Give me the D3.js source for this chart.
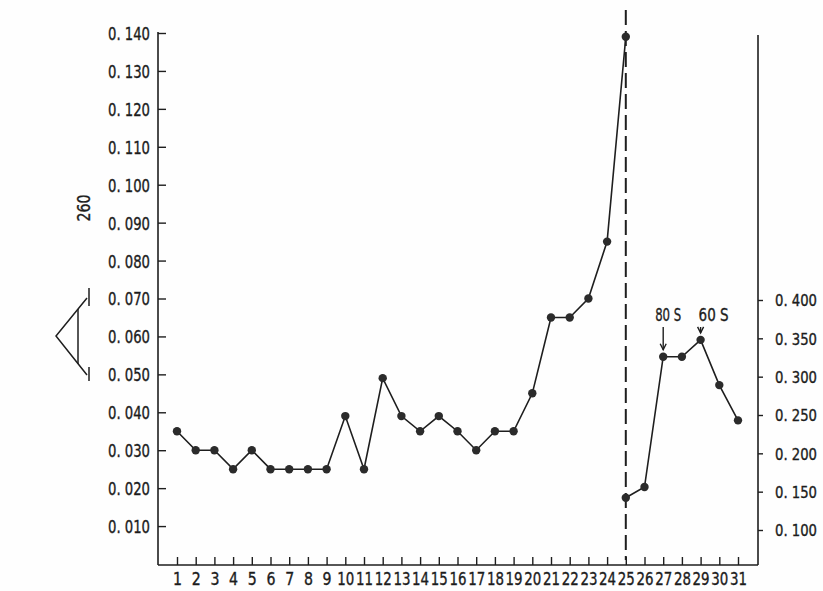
<!DOCTYPE html>
<html>
<head>
<meta charset="utf-8">
<script src="https://cdn.jsdelivr.net/npm/d3@7"></script>
<style>
  html, body { margin: 0; padding: 0; background: #fefefe; }
  svg { display: block; }
  text { font-family: "DejaVu Sans Condensed", "DejaVu Sans", sans-serif; fill: #1c1c1c; stroke: #1c1c1c; stroke-width: 0.35px; }
</style>
</head>
<body>
<svg id="chart" width="823" height="591"></svg>
<script>
// Gradient fractions 1–31
const fractions = d3.range(1, 32);

// Absorbance read on the left scale (fractions 1–25)
const leftFractions = d3.range(1, 26);
const leftValues = [0.035, 0.030, 0.030, 0.025, 0.030, 0.025, 0.025, 0.025, 0.025, 0.039,
                    0.025, 0.049, 0.039, 0.035, 0.039, 0.035, 0.030, 0.035, 0.035, 0.045,
                    0.065, 0.065, 0.070, 0.085, 0.139];

// Absorbance read on the right scale (fractions 25–31)
const rightFractions = [25, 26, 27, 28, 29, 30, 31];
const rightValues = [0.142, 0.156, 0.326, 0.326, 0.348, 0.289, 0.243];

// Axis tick labels
const leftTicks = [0.010, 0.020, 0.030, 0.040, 0.050, 0.060, 0.070, 0.080, 0.090, 0.100, 0.110, 0.120, 0.130, 0.140];
const rightTicks = [0.100, 0.150, 0.200, 0.250, 0.300, 0.350, 0.400];

// Sedimentation markers
const markers = [
  { fraction: 27, label: "80 S", value: 0.326 },
  { fraction: 29, label: "60 S", value: 0.348 }
];

const ink = "#1e1e1e";
const svg = d3.select("#chart");

const x = d3.scaleLinear().domain([1, 31]).range([177, 738]);
const yL = d3.scaleLinear().domain([0, 0.140]).range([564, 33]);
const yR = d3.scaleLinear().domain([0.100, 0.400]).range([530, 300]);

const axisY = 565, leftX = 158, rightX = 758;
const fmt = d => d3.format(".3f")(d).replace(".", ". ");

// Frame lines
svg.append("line").attr("x1", leftX).attr("x2", leftX).attr("y1", 32).attr("y2", axisY)
  .attr("stroke", ink).attr("stroke-width", 1.6);
svg.append("line").attr("x1", leftX).attr("x2", rightX).attr("y1", axisY).attr("y2", axisY)
  .attr("stroke", ink).attr("stroke-width", 1.6);
svg.append("line").attr("x1", rightX).attr("x2", rightX).attr("y1", 35).attr("y2", axisY)
  .attr("stroke", ink).attr("stroke-width", 1.6);

// Left axis
const gL = svg.append("g").attr("transform", `translate(${leftX},0)`)
  .call(d3.axisLeft(yL).tickValues(leftTicks).tickSize(-8).tickPadding(8).tickFormat(fmt));
gL.select(".domain").remove();
gL.selectAll(".tick line").attr("stroke", ink).attr("stroke-width", 1.4);
gL.selectAll(".tick text").attr("font-size", 18).attr("fill", ink).attr("dy", "0.36em")
  .attr("textLength", 42).attr("lengthAdjust", "spacingAndGlyphs");

// Right axis
const gR = svg.append("g").attr("transform", `translate(${rightX},0)`)
  .call(d3.axisRight(yR).tickValues(rightTicks).tickSize(5).tickPadding(12).tickFormat(fmt));
gR.select(".domain").remove();
gR.selectAll(".tick line").attr("stroke", ink).attr("stroke-width", 1.4);
gR.selectAll(".tick text").attr("font-size", 16).attr("fill", ink).attr("dy", "0.36em")
  .attr("textLength", 42).attr("lengthAdjust", "spacingAndGlyphs");

// Bottom axis
const gX = svg.append("g").attr("transform", `translate(0,${axisY})`)
  .call(d3.axisBottom(x).tickValues(fractions).tickSize(-8).tickPadding(7).tickFormat(d3.format("d")));
gX.select(".domain").remove();
gX.selectAll(".tick line").attr("stroke", ink).attr("stroke-width", 1.4);
gX.selectAll(".tick text").attr("font-size", 18).attr("fill", ink)
  .attr("textLength", d => d >= 10 ? 17 : 9).attr("lengthAdjust", "spacingAndGlyphs");

// Dashed divider at fraction 25
svg.append("line").attr("x1", x(25)).attr("x2", x(25)).attr("y1", 10).attr("y2", 560)
  .attr("stroke", ink).attr("stroke-width", 2).attr("stroke-dasharray", "15,6");

// Profiles
const lineL = d3.line().x((d, i) => x(leftFractions[i])).y(d => yL(d));
const lineR = d3.line().x((d, i) => x(rightFractions[i])).y(d => yR(d));

svg.append("path").datum(leftValues).attr("d", lineL)
  .attr("fill", "none").attr("stroke", ink).attr("stroke-width", 1.6);
svg.append("path").datum(rightValues).attr("d", lineR)
  .attr("fill", "none").attr("stroke", ink).attr("stroke-width", 1.6);

svg.append("g").selectAll("circle").data(leftValues).join("circle")
  .attr("cx", (d, i) => x(leftFractions[i])).attr("cy", d => yL(d)).attr("r", 4.2)
  .attr("fill", "#2b2b2b");
svg.append("g").selectAll("circle").data(rightValues).join("circle")
  .attr("cx", (d, i) => x(rightFractions[i])).attr("cy", d => yR(d)).attr("r", 4.2)
  .attr("fill", "#2b2b2b");

// 80 S / 60 S markers; labels sit slightly right of their arrows
const labelShift = { "80 S": -8, "60 S": -2 };
const mk = svg.append("g");
markers.forEach(m => {
  const cx = x(m.fraction), top = 327, tip = yR(m.value) - 7;
  mk.append("line").attr("x1", cx).attr("x2", cx).attr("y1", top).attr("y2", tip)
    .attr("stroke", ink).attr("stroke-width", 1.4);
  mk.append("path")
    .attr("d", `M${cx - 3},${tip - 6}L${cx},${tip}L${cx + 3},${tip - 6}`)
    .attr("fill", "none").attr("stroke", ink).attr("stroke-width", 1.4);
  mk.append("text").attr("x", cx + labelShift[m.label]).attr("y", 321)
    .attr("font-size", 18).attr("textLength", m.label === "80 S" ? 26 : 30)
    .attr("lengthAdjust", "spacingAndGlyphs").text(m.label);
});

// 260 nm absorbance scale bar
const sb = svg.append("g").attr("stroke", ink).attr("stroke-width", 1.5).attr("fill", "none");
sb.append("path").attr("d", "M87,298L56,336L87,375");
sb.append("line").attr("x1", 78).attr("x2", 78).attr("y1", 309).attr("y2", 364);
sb.append("line").attr("x1", 89).attr("x2", 89).attr("y1", 288).attr("y2", 306);
sb.append("line").attr("x1", 89).attr("x2", 89).attr("y1", 367).attr("y2", 381);
svg.append("text").attr("transform", "translate(90,208) rotate(-90)")
  .attr("text-anchor", "middle").attr("font-size", 18)
  .attr("textLength", 27).attr("lengthAdjust", "spacingAndGlyphs").text("260");
</script>
</body>
</html>
